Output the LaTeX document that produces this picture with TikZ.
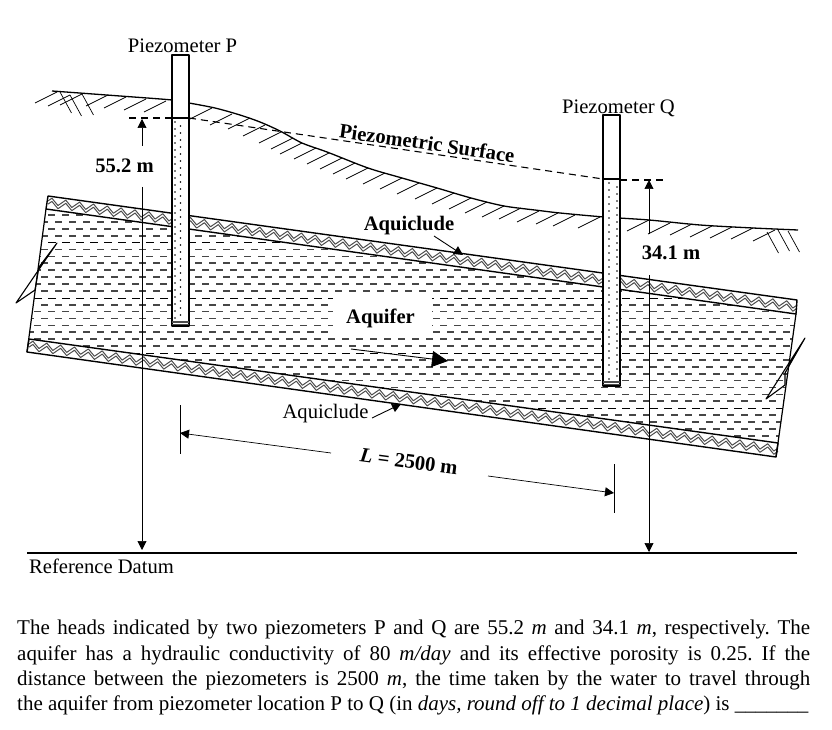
\documentclass[tikz,border=0pt]{standalone}
\usepackage{fontspec}
\setmainfont{Liberation Serif}
\usetikzlibrary{arrows.meta,decorations.pathmorphing}
\tikzset{
    plain/.style={font=\fontsize{20.6}{24}\selectfont, inner sep=0pt},
    heavy/.style={font=\fontsize{20.6}{24}\selectfont\bfseries, inner sep=0pt},
    wavy/.style={gray!60!black, line width=1pt, decorate, decoration={zigzag, segment length=14pt, amplitude=3.2pt}},
    pipe/.style={draw, fill=white, line width=1.3pt},
    level/.style={line width=1.1pt, dash pattern=on 7pt off 5pt},
    dim/.style={line width=0.7pt},
    hatch/.style={line width=0.7pt}
}

\begin{document}
\frenchspacing
\begin{tikzpicture}[line cap=butt,line join=round,>={Triangle[length=9pt,width=9pt]},x=1pt,y=-1pt]
    \useasboundingbox (0,0) rectangle (832,730);

    % Corners of the aquifer block
    \coordinate (TL) at (48,196);
    \coordinate (TR) at (797,300);
    \coordinate (UL) at (46,209);
    \coordinate (UR) at (796,314);
    \coordinate (LL) at (29,339);
    \coordinate (LR) at (778,443);
    \coordinate (BL) at (27,352);
    \coordinate (BR) at (776,457);

    % Water dashes
    \begin{scope}
        \clip (UL) -- (UR) -- (LR) -- (LL) -- cycle;
        \foreach \row in {0,...,33} {
                \pgfmathsetmacro{\ypos}{215+6.9*\row}
                \pgfmathsetmacro{\phase}{mod(\row,2)*7}
                \pgfmathtruncatemacro{\thin}{mod(\row,8)==4}
                \ifnum\thin=1
                    \draw[line width=0.6pt, dash pattern=on 8pt off 6pt] (20,\ypos) -- (800,\ypos);
                \else
                    \draw[gray!55!black, line width=1.7pt, dash pattern=on 7pt off 7pt, dash phase=\phase pt] (20,\ypos) -- (800,\ypos);
                \fi
            }
    \end{scope}
    \fill[white] (333,298) rectangle (432,338);

    % Confining layers
    \path (TL) ++(0,6.5) coordinate (midA) (TR) ++(0,7) coordinate (midB);
    \path (LL) ++(0,6.5) coordinate (midC) (LR) ++(0,7) coordinate (midD);
    \foreach \shift in {-1.6,1.6} {
            \draw[wavy] ([yshift=\shift pt]midA) -- ([yshift=\shift pt]midB);
            \draw[wavy] ([yshift=\shift pt]midC) -- ([yshift=\shift pt]midD);
        }
    \draw[line width=1.4pt] (UL) -- (TL) -- (TR) -- (UR) -- cycle;
    \draw[line width=1.4pt] (LL) -- (BL) -- (BR) -- (LR) -- cycle;
    \draw[line width=1.2pt] (UL) -- (BL);
    \draw[line width=1.2pt] (UR) -- (BR);

    % Break marks
    \draw[line width=1.1pt] (57,243) -- (16,303) -- (35,290) -- (39,267) -- cycle;
    \draw[line width=1.1pt] (805,338) -- (766,399) -- (785,385) -- (785,373) -- cycle;

    % Ground surface
    \draw[line width=1.3pt] plot[smooth] coordinates {(52,91) (120,96) (172,100) (189,103) (215,108) (240,115) (260,122) (280,131) (302,143) (327,152) (368,168) (402,178) (437,188) (471,198) (504,206) (539,210.5) (560,213) (604,217) (649,220) (700,225) (753,228) (798,230)};
    \foreach \x/\y in {57/92, 70/95, 82/94, 108/95, 126/97, 146/99, 166/101, 212/108, 232/114, 250/118, 265/125, 281/132, 293/138, 302/143, 316/148, 329/153, 342/158, 355/163, 368/168, 385/173, 402/178, 419/183, 437/188, 454/193, 471/198, 487/202, 504/206, 521/208, 539/211, 558/213, 575/215, 600/217, 649/220, 670/223, 692/224, 712/226, 732/227, 753/228, 775/230} {
            \draw[hatch] (\x,\y) -- ++(-22,11);
        }
    \foreach \x/\y in {60/92, 70/95, 82/94, 767/232, 778/230, 788/231} {
            \draw[hatch] (\x,\y) -- ++(11.5,21);
        }

    % Piezometers
    \foreach \px/\ptop/\pwater/\pbot in {172/55/118/326, 603/115/179/386} {
            \draw[pipe] (\px,\ptop) rectangle ++(17,\pbot-\ptop);
            \draw[line width=1.3pt] (\px,\pwater) -- ++(17,0);
            \foreach \slot in {2,3.5,5} {
                    \draw[gray!60!black, line width=0.7pt] (\px,\pbot-\slot) -- ++(17,0);
                }
        }
    \foreach \dx/\dtop/\dbot in {175/122/320, 180.5/126/320, 609/183/380, 617/187/380} {
            \draw[line width=1.6pt, line cap=round, dash pattern=on 0pt off 7pt] (\dx,\dtop) -- (\dx,\dbot);
        }

    % Piezometric surface
    \draw[level] (129,118) -- (172,118);
    \draw[level] (189,118) -- (603,179);
    \draw[level] (620,180) -- (663,180);

    % Head arrows
    \coordinate (tipP) at (142,119);
    \coordinate (tailP) at (142,146);
    \coordinate (topP) at (142,187);
    \coordinate (datumP) at (142,550);
    \coordinate (tipQ) at (649,180);
    \coordinate (tailQ) at (649,234);
    \coordinate (topQ) at (649,275);
    \coordinate (datumQ) at (649,552);
    \foreach \source/\target in {tailP/tipP, topP/datumP, tailQ/tipQ, topQ/datumQ} {
            \draw[dim, ->] (\source) -- (\target);
        }

    % Length arrows
    \draw[dim] (180,405) -- (180,454);
    \draw[dim] (614,464) -- (614,513);
    \coordinate (tailL) at (331,453);
    \coordinate (tipL) at (180,433);
    \coordinate (tailR) at (488,476);
    \coordinate (tipR) at (614,493);
    \draw[dim, ->] (tailL) -- (tipL);
    \draw[dim, ->] (tailR) -- (tipR);

    % Pointers
    \coordinate (clayA) at (434,236);
    \coordinate (clayB) at (463,255);
    \coordinate (clayC) at (372,418);
    \coordinate (clayD) at (401,404);
    \coordinate (flowA) at (351,349);
    \coordinate (flowB) at (448,361);
    \draw[line width=0.9pt, ->] (clayA) -- (clayB);
    \draw[line width=0.9pt, ->] (clayC) -- (clayD);
    \draw[line width=0.9pt, -{Triangle[length=16pt,width=16pt]}] (flowA) -- (flowB);

    % Datum
    \coordinate (datumA) at (27,553);
    \coordinate (datumB) at (797,553);
    \draw[line width=1.3pt] (datumA) -- (datumB);

    % Labels
    \draw(182.5,46) node[plain] (pieP) {Piezometer P};
    \draw(618.5,108.5) node[plain] (pieQ) {Piezometer Q};
    \draw(124.5,166) node[heavy] (headP) {55.2 m};
    \draw(671,253) node[heavy] (headQ) {34.1 m};
    \draw(427,143) node[heavy, rotate=-8.2] (surf) {Piezometric Surface};
    \draw(409,226) node[heavy] (clayTop) {Aquiclude};
    \draw(380.5,318) node[heavy] (aquifer) {Aquifer};
    \draw(325.5,414) node[plain] (clayBot) {Aquiclude};
    \draw(409,461.5) node[heavy, rotate=-7.6] (length) {\textit{L} = 2500 m};
    \draw(29,566) node[plain, anchor=west] (datum) {Reference Datum};

    % Question
    \draw(17,620) node[anchor=north west, inner sep=0pt, text width=793pt, align=justify, font=\fontsize{21}{25.4}\selectfont] (question) {The heads indicated by two piezometers P and Q are 55.2 \textit{m} and 34.1 \textit{m}, respectively. The\linebreak
        aquifer has a hydraulic conductivity of 80 \textit{m/day} and its effective porosity is 0.25. If the\linebreak
        distance between the piezometers is 2500 \textit{m}, the time taken by the water to travel through\linebreak
        the aquifer from piezometer location P to Q (in \textit{days, round off to 1 decimal place}) is \_\_\_\_\_\_\_};
\end{tikzpicture}
\end{document}
